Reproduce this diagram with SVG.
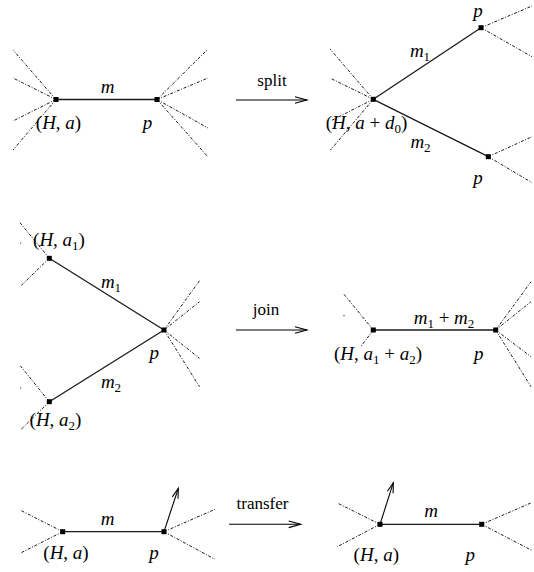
<svg xmlns="http://www.w3.org/2000/svg" width="534" height="572" viewBox="0 0 534 572">
<style>
.edge{stroke:#1a1a1a;stroke-width:1.3;fill:none}
.half{stroke:#000;stroke-width:0.9;stroke-dasharray:3 1.6 1 1.6;fill:none}
.arr{stroke:#000;stroke-width:1.1;fill:none}
.nd{fill:#000}
.m{font-family:"Liberation Serif","DejaVu Serif",serif;font-size:19px;font-style:italic;fill:#000}
.up{font-style:normal}
.sub{font-size:13px;font-style:normal}
.t{font-family:"Liberation Serif","DejaVu Serif",serif;font-size:17px;fill:#000}
</style>
<defs>
<marker id="big" markerUnits="userSpaceOnUse" markerWidth="16" markerHeight="10" viewBox="-14 -5 16 10" refX="0" refY="0" orient="auto">
<path d="M-12,-3.3 L0,0 L-12,3.3" fill="none" stroke="#000" stroke-width="1.1"/>
</marker>
<marker id="small" markerUnits="userSpaceOnUse" markerWidth="14" markerHeight="10" viewBox="-12 -5 14 10" refX="0" refY="0" orient="auto">
<path d="M-10,-3 L0,0 L-10,3" fill="none" stroke="#000" stroke-width="1.1"/>
</marker>
</defs>
<rect width="534" height="572" fill="#fff"/>

<g id="connectors">
  <!-- row 1 left -->
  <line class="edge" x1="56" y1="99.5" x2="157" y2="99.5"/>
  <path class="half" d="M56,99.5 L13,50 M56,99.5 L13,78 M56,99.5 L13,121 M56,99.5 L13,150"/>
  <path class="half" d="M157,99.5 L207,50 M157,99.5 L208,78 M157,99.5 L208,128 M157,99.5 L208,157"/>
  <!-- split arrow -->
  <line class="arr" x1="236" y1="100" x2="307" y2="100" marker-end="url(#big)"/>
  <!-- row 1 right -->
  <line class="edge" x1="373.3" y1="99.3" x2="481" y2="27.7"/>
  <line class="edge" x1="373.3" y1="99.3" x2="488.3" y2="156.7"/>
  <path class="half" d="M373.3,99.3 L330,49 M373.3,99.3 L330.5,78.3 M373.3,99.3 L330.5,121 M373.3,99.3 L330.5,150"/>
  <path class="half" d="M481,27.7 L532,6 M481,27.7 L532,56.7"/>
  <path class="half" d="M488.3,156.7 L532,136.7 M488.3,156.7 L532,182.7"/>
  <!-- row 2 left -->
  <line class="edge" x1="49.3" y1="258.3" x2="164" y2="330"/>
  <line class="edge" x1="49.3" y1="401.7" x2="164" y2="330"/>
  <path class="half" d="M49.3,258.3 L20,222.7 M49.3,258.3 L20,286.7"/>
  <path class="half" d="M49.3,401.7 L20.5,366 M49.3,401.7 L20.5,430"/>
  <path class="half" d="M164,330 L199.5,280.7 M164,330 L199.5,301.7 M164,330 L199.5,358.3 M164,330 L199.5,386.7"/>
  <circle cx="20.7" cy="243" r="0.6" fill="#000"/>
  <circle cx="20.7" cy="388" r="0.6" fill="#000"/>
  <!-- join arrow -->
  <line class="arr" x1="236" y1="330" x2="307" y2="330" marker-end="url(#big)"/>
  <!-- row 2 right -->
  <line class="edge" x1="373.3" y1="330" x2="495.7" y2="330"/>
  <path class="half" d="M373.3,330 L344,294.3 M373.3,330 L360.7,346.7"/>
  <circle cx="344" cy="315.7" r="0.6" fill="#000"/>
  <path class="half" d="M495.7,330 L531,281.7 M495.7,330 L531,301.7 M495.7,330 L531,356.7 M495.7,330 L531,386.7"/>
  <!-- row 3 left -->
  <line class="edge" x1="62.7" y1="531.7" x2="164" y2="531.7"/>
  <path class="half" d="M62.7,531.7 L20,510 M62.7,531.7 L20,553.3"/>
  <path class="half" d="M164,531.7 L215,509.3 M164,531.7 L215,559.3"/>
  <line class="arr" x1="164" y1="531.7" x2="178.3" y2="488.3" marker-end="url(#small)"/>
  <!-- transfer arrow -->
  <line class="arr" x1="229" y1="524.3" x2="300.7" y2="524.3" marker-end="url(#big)"/>
  <!-- row 3 right -->
  <line class="edge" x1="380" y1="524.3" x2="481.7" y2="524.3"/>
  <path class="half" d="M380,524.3 L337.3,503 M380,524.3 L337.3,546.7"/>
  <path class="half" d="M481.7,524.3 L532,502.5 M481.7,524.3 L532,550.5"/>
  <line class="arr" x1="380" y1="524.3" x2="393.3" y2="482.7" marker-end="url(#small)"/>
</g>

<g id="labels">
  <text class="t" x="272" y="86" text-anchor="middle">split</text>
  <text class="t" x="266" y="315" text-anchor="middle">join</text>
  <text class="t" x="262.5" y="509" text-anchor="middle">transfer</text>
  <text class="m" x="107.5" y="92.5" text-anchor="middle">m</text>
  <text class="m" x="420" y="57" text-anchor="middle">m<tspan class="sub" dy="4">1</tspan></text>
  <text class="m" x="420.5" y="148" text-anchor="middle">m<tspan class="sub" dy="4">2</tspan></text>
  <text class="m" x="111" y="287.5" text-anchor="middle">m<tspan class="sub" dy="4">1</tspan></text>
  <text class="m" x="111" y="387.5" text-anchor="middle">m<tspan class="sub" dy="4">2</tspan></text>
  <text class="m" x="444" y="324" text-anchor="middle">m<tspan class="sub" dy="4">1</tspan><tspan class="up" dy="-4"> + </tspan>m<tspan class="sub" dy="4">2</tspan></text>
  <text class="m" x="107.5" y="525" text-anchor="middle">m</text>
  <text class="m" x="431" y="517" text-anchor="middle">m</text>
</g>

<g id="n-split-H">
  <rect class="nd" x="53.5" y="97" width="5" height="5"/>
  <text class="m" x="58.5" y="129" text-anchor="middle"><tspan class="up">(</tspan>H<tspan class="up">, </tspan>a<tspan class="up">)</tspan></text>
</g>
<g id="n-split-p">
  <rect class="nd" x="154.5" y="97" width="5" height="5"/>
  <text class="m" x="147.5" y="129" text-anchor="middle">p</text>
</g>
<g id="n-split-H2">
  <rect class="nd" x="370.8" y="96.8" width="5" height="5"/>
  <text class="m" x="366.5" y="129" text-anchor="middle"><tspan class="up">(</tspan>H<tspan class="up">, </tspan>a<tspan class="up"> + </tspan>d<tspan class="sub" dy="4">0</tspan><tspan class="up" dy="-4">)</tspan></text>
</g>
<g id="n-split-p1">
  <rect class="nd" x="478.5" y="25.2" width="5" height="5"/>
  <text class="m" x="478" y="17" text-anchor="middle">p</text>
</g>
<g id="n-split-p2">
  <rect class="nd" x="485.8" y="154.2" width="5" height="5"/>
  <text class="m" x="478" y="184" text-anchor="middle">p</text>
</g>

<g id="n-join-H1">
  <rect class="nd" x="46.8" y="255.8" width="5" height="5"/>
  <text class="m" x="59" y="246" text-anchor="middle"><tspan class="up">(</tspan>H<tspan class="up">, </tspan>a<tspan class="sub" dy="4">1</tspan><tspan class="up" dy="-4">)</tspan></text>
</g>
<g id="n-join-H2">
  <rect class="nd" x="46.8" y="399.2" width="5" height="5"/>
  <text class="m" x="55.5" y="426" text-anchor="middle"><tspan class="up">(</tspan>H<tspan class="up">, </tspan>a<tspan class="sub" dy="4">2</tspan><tspan class="up" dy="-4">)</tspan></text>
</g>
<g id="n-join-p">
  <rect class="nd" x="161.5" y="327.5" width="5" height="5"/>
  <text class="m" x="154.3" y="359" text-anchor="middle">p</text>
</g>
<g id="n-join-H">
  <rect class="nd" x="370.8" y="327.5" width="5" height="5"/>
  <text class="m" x="378" y="360" text-anchor="middle"><tspan class="up">(</tspan>H<tspan class="up">, </tspan>a<tspan class="sub" dy="4">1</tspan><tspan class="up" dy="-4"> + </tspan>a<tspan class="sub" dy="4">2</tspan><tspan class="up" dy="-4">)</tspan></text>
</g>
<g id="n-join-p2">
  <rect class="nd" x="493.2" y="327.5" width="5" height="5"/>
  <text class="m" x="478.7" y="360" text-anchor="middle">p</text>
</g>

<g id="n-transfer-H">
  <rect class="nd" x="60.2" y="529.2" width="5" height="5"/>
  <text class="m" x="66" y="559" text-anchor="middle"><tspan class="up">(</tspan>H<tspan class="up">, </tspan>a<tspan class="up">)</tspan></text>
</g>
<g id="n-transfer-p">
  <rect class="nd" x="161.5" y="529.2" width="5" height="5"/>
  <text class="m" x="154" y="559" text-anchor="middle">p</text>
</g>
<g id="n-transfer-H2">
  <rect class="nd" x="377.5" y="521.8" width="5" height="5"/>
  <text class="m" x="376.3" y="561" text-anchor="middle"><tspan class="up">(</tspan>H<tspan class="up">, </tspan>a<tspan class="up">)</tspan></text>
</g>
<g id="n-transfer-p2">
  <rect class="nd" x="479.2" y="521.8" width="5" height="5"/>
  <text class="m" x="470.3" y="561" text-anchor="middle">p</text>
</g>
</svg>
